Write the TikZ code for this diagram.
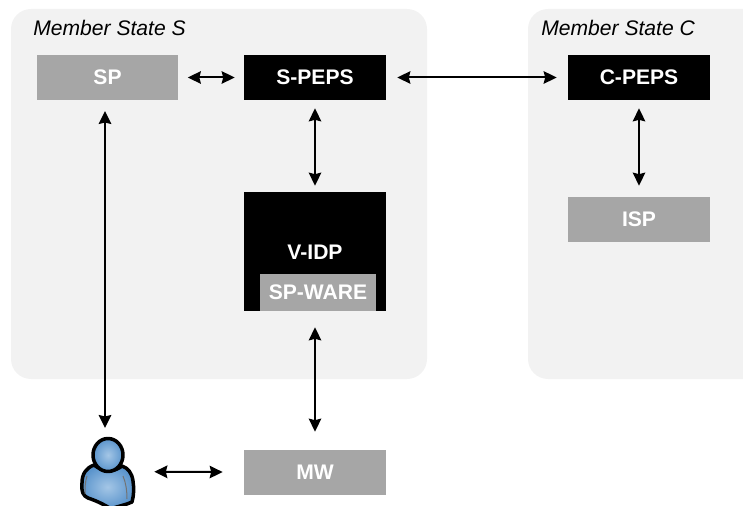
\documentclass[tikz,border=0pt]{standalone}
\usepackage{fontspec}
\setmainfont{Liberation Sans}
\usetikzlibrary{arrows.meta}
\definecolor{regionfill}{HTML}{F2F2F2}
\definecolor{boxgray}{HTML}{A6A6A6}
\definecolor{userblue}{HTML}{5A94CC}
\definecolor{userlight}{HTML}{A4C6E6}
\tikzset{
	region/.style={fill=regionfill, rounded corners=0.4cm},
	statelabel/.style={anchor=west, inner sep=0pt, font=\itshape\fontsize{12}{14}\selectfont},
	box/.style={shape=rectangle, minimum width=2.84cm, minimum height=0.9cm, inner sep=0pt, text=white, font=\bfseries\fontsize{12}{14}\selectfont},
	graybox/.style={box, fill=boxgray},
	blackbox/.style={box, fill=black},
	link/.style={{Stealth[length=0.26cm,width=0.25cm,inset=0.03cm]}-{Stealth[length=0.26cm,width=0.25cm,inset=0.03cm]}, line width=0.04cm},
	userpart/.style={inner color=userlight, outer color=userblue, draw=black, line width=0.07cm, line join=round}
}
\begin{document}
\begin{tikzpicture}[x=0.02cm, y=-0.02cm]
	\useasboundingbox (0,0) rectangle (743,506);
	\clip (0,0) rectangle (743,506);
	% Regions:
	\path[region] (11,9) rectangle (427,379);
	\path[region] (528,9) rectangle (780,379);
	\node[statelabel] (stateS) at (33,28){Member State S};
	\node[statelabel] (stateC) at (541,28){Member State C};
	% Boxes:
	\node[graybox] (sp) at (107.5,77.5){SP};
	\node[blackbox] (speps) at (315,77.5){S-PEPS};
	\node[blackbox] (cpeps) at (639,77.5){C-PEPS};
	\node[graybox] (isp) at (639,219.5){ISP};
	\node[blackbox, minimum height=2.38cm] (vidp) at (315,251.5){};
	\node[shape=rectangle, inner sep=0pt, text=white, font=\bfseries\fontsize{12}{14}\selectfont] (vidplabel) at (315,252){V-IDP};
	\node[graybox, minimum width=2.32cm, minimum height=0.74cm] (spware) at (318,292.5){SP-WARE};
	\node[graybox] (mw) at (315,472.5){MW};
	% User:
	\node[shape=rectangle, minimum width=1.08cm, minimum height=1.38cm, inner sep=0pt] (user) at (108,471.5){};
	\draw[userpart] (94,465) .. controls (86,468) and (82,474) .. (82,483) .. controls (81,491) and (83,496) .. (88,498) .. controls (97,501) and (105,505) .. (111,509) .. controls (118,506) and (126,505) .. (132,502) .. controls (134,495) and (134,488) .. (133,481) .. controls (132,473) and (128,468) .. (122,466) .. controls (113,473) and (103,472) .. (94,465) -- cycle;
	\draw[black!55, line width=0.02cm] (87,476) .. controls (85,482) and (85,488) .. (85,494);
	\draw[black!55, line width=0.02cm] (123,476) .. controls (126,483) and (127,491) .. (127,499);
	\draw[userpart] (108,455) ellipse (15 and 16.5);
	\coordinate (spS) at (105,100);
	\coordinate (userN) at (105,437);
	% Connectors:
	\draw[link, shorten <=0.18cm, shorten >=0.18cm] (sp) -- (speps);
	\draw[link, shorten <=0.22cm, shorten >=0.22cm] (speps) -- (cpeps);
	\draw[link, shorten <=0.16cm, shorten >=0.12cm] (speps) -- (vidp);
	\draw[link, shorten <=0.32cm, shorten >=0.36cm] (vidp.south) -- (mw);
	\draw[link, shorten <=0.16cm, shorten >=0.22cm] (cpeps) -- (isp);
	\draw[link, shorten <=0.22cm, shorten >=0.18cm] (spS) -- (userN);
	\draw[link, shorten <=0.38cm, shorten >=0.42cm] (user) -- (mw);
\end{tikzpicture}
\end{document}
